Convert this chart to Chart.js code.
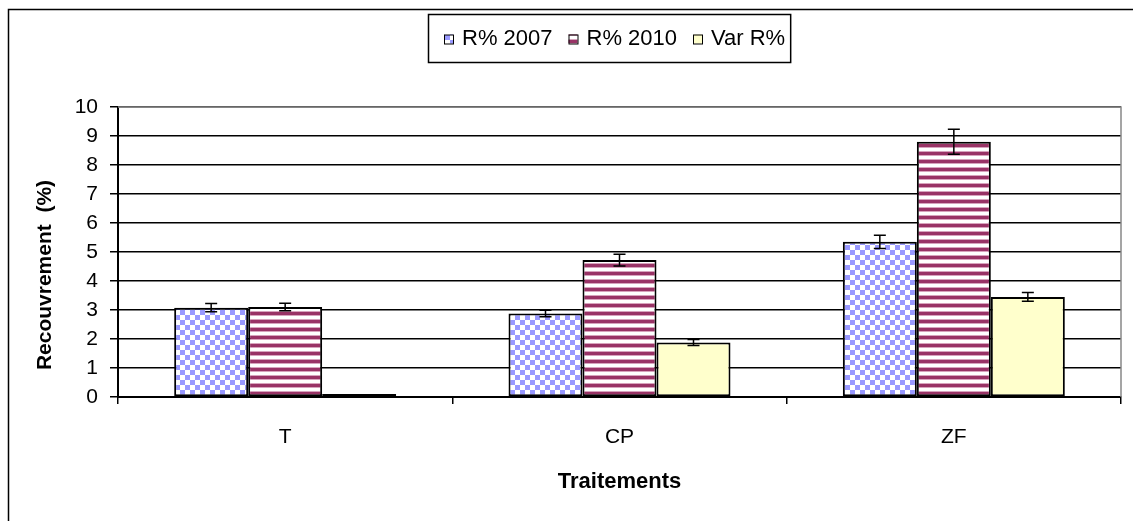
<!DOCTYPE html>
<html>
<head>
<meta charset="utf-8">
<script src="https://cdn.jsdelivr.net/npm/chart.js@4.4.1/dist/chart.umd.min.js"></script>
<style>
  html, body { margin: 0; padding: 0; background: #fff; }
  #wrap { width: 1133px; height: 521px; }
</style>
</head>
<body>
<div id="wrap"><canvas id="chart" width="1133" height="521"></canvas></div>
<script>
// Chart data
const categories = ['T', 'CP', 'ZF'];
const seriesLabels = ['R% 2007', 'R% 2010', 'Var R%'];
const r2007 = [3.08, 2.88, 5.35];
const r2007Err = [0.14, 0.11, 0.23];
const r2010 = [3.1, 4.72, 8.8];
const r2010Err = [0.13, 0.2, 0.43];
const varR = [0.1, 1.88, 3.45];
const varErr = [0, 0.1, 0.15];
const yTicks = [0, 1, 2, 3, 4, 5, 6, 7, 8, 9, 10];
const yTitle = 'Recouvrement  (%)';

const FONT = "'Liberation Sans', Arial, sans-serif";

// Fill patterns
function checkerPattern() {
    const c = document.createElement('canvas');
    c.width = 10; c.height = 10;
    const g = c.getContext('2d');
    g.fillStyle = '#ffffff';
    g.fillRect(0, 0, 10, 10);
    g.fillStyle = '#9999ff';
    g.fillRect(0, 0, 5, 5);
    g.fillRect(5, 5, 5, 5);
    return g.createPattern(c, 'repeat');
}

function stripePattern() {
    const c = document.createElement('canvas');
    c.width = 8; c.height = 8;
    const g = c.getContext('2d');
    g.fillStyle = '#ffffff';
    g.fillRect(0, 0, 8, 8);
    g.fillStyle = '#993366';
    g.fillRect(0, 0, 8, 3);
    g.fillStyle = '#d7a3bd';
    g.fillRect(0, 3, 8, 1);
    g.fillRect(0, 7, 8, 1);
    return g.createPattern(c, 'repeat');
}

const fills = [checkerPattern(), stripePattern(), '#ffffcc'];
const errors = [r2007Err, r2010Err, varErr];

// Error bars, drawn through the chart's own scales
const errorBars = {
    id: 'errorBars',
    afterDatasetsDraw(chart) {
        const ctx = chart.ctx;
        const yScale = chart.scales.y;
        ctx.save();
        ctx.strokeStyle = '#000';
        ctx.lineWidth = 1.5;
        chart.data.datasets.forEach((ds, i) => {
            const meta = chart.getDatasetMeta(i);
            meta.data.forEach((bar, j) => {
                const err = errors[i][j];
                if (!err) return;
                const v = ds.data[j];
                const yTop = yScale.getPixelForValue(v + err);
                const yBot = yScale.getPixelForValue(v - err);
                ctx.beginPath();
                ctx.moveTo(bar.x, yTop); ctx.lineTo(bar.x, yBot);
                ctx.moveTo(bar.x - 6, yTop); ctx.lineTo(bar.x + 6, yTop);
                ctx.moveTo(bar.x - 6, yBot); ctx.lineTo(bar.x + 6, yBot);
                ctx.stroke();
            });
        });
        ctx.restore();
    }
};

// Outer frame, plot border, y title and boxed legend
const frameAndLegend = {
    id: 'frameAndLegend',
    beforeDraw(chart) {
        const ctx = chart.ctx;
        ctx.save();
        ctx.fillStyle = '#fff';
        ctx.fillRect(0, 0, chart.width, chart.height);
        ctx.restore();
    },
    afterDraw(chart) {
        const ctx = chart.ctx;
        const a = chart.chartArea;
        ctx.save();
        // outer frame
        ctx.strokeStyle = '#000';
        ctx.lineWidth = 1.5;
        ctx.beginPath();
        ctx.moveTo(8.5, chart.height);
        ctx.lineTo(8.5, 9.5);
        ctx.lineTo(chart.width, 9.5);
        ctx.stroke();
        // plot area top / right edge
        ctx.strokeStyle = '#888';
        ctx.lineWidth = 1.5;
        ctx.beginPath();
        ctx.moveTo(a.left, a.top);
        ctx.lineTo(a.right, a.top);
        ctx.lineTo(a.right, a.bottom);
        ctx.stroke();

        // y axis title (sits a bit below the plot centre, as in the original)
        ctx.save();
        ctx.translate(45, 275);
        ctx.rotate(-Math.PI / 2);
        ctx.font = 'bold 21px ' + FONT;
        ctx.fillStyle = '#000';
        ctx.textAlign = 'center';
        ctx.textBaseline = 'middle';
        ctx.fillText(yTitle, 0, 0);
        ctx.restore();

        // legend
        ctx.font = '22px ' + FONT;
        ctx.textBaseline = 'middle';
        const box = { x: 428, y: 14, h: 48 };
        const sq = 9, gapText = 9, gapItem = 16;
        let w = 16;
        seriesLabels.forEach((s, i) => {
            w += sq + gapText + ctx.measureText(s).width + (i < seriesLabels.length - 1 ? gapItem : 0);
        });
        w += 5;
        ctx.fillStyle = '#fff';
        ctx.fillRect(box.x, box.y, w, box.h);
        ctx.strokeStyle = '#000';
        ctx.lineWidth = 1.5;
        ctx.strokeRect(box.x + 0.5, box.y + 0.5, w, box.h);
        let x = box.x + 16;
        const cy = box.y + box.h / 2 + 1;
        seriesLabels.forEach((s, i) => {
            ctx.fillStyle = fills[i];
            ctx.fillRect(x, cy - sq / 2, sq, sq);
            ctx.strokeStyle = '#000';
            ctx.lineWidth = 1;
            ctx.strokeRect(x + 0.5, cy - sq / 2 + 0.5, sq, sq);
            ctx.fillStyle = '#000';
            ctx.fillText(s, x + sq + gapText, cy);
            x += sq + gapText + ctx.measureText(s).width + gapItem;
        });
        ctx.restore();
    }
};

const ctx = document.getElementById('chart').getContext('2d');
new Chart(ctx, {
    type: 'bar',
    data: {
        labels: categories,
        datasets: [r2007, r2010, varR].map((d, i) => ({
            label: seriesLabels[i],
            data: d,
            backgroundColor: fills[i],
            borderColor: '#000',
            borderWidth: 2,
            borderSkipped: false,
            categoryPercentage: 0.664,
            barPercentage: 1.0
        }))
    },
    options: {
        responsive: false,
        animation: false,
        devicePixelRatio: 1,
        layout: { padding: { top: 107, right: 12, left: 0, bottom: 0 } },
        plugins: {
            legend: { display: false },
            tooltip: { enabled: false }
        },
        scales: {
            x: {
                offset: true,
                grid: {
                    offset: true,
                    drawOnChartArea: false,
                    color: '#000',
                    lineWidth: 1.5,
                    tickLength: 7
                },
                border: { color: '#000', width: 2 },
                ticks: {
                    color: '#000',
                    font: { family: FONT, size: 21 },
                    padding: 21
                },
                title: {
                    display: true,
                    text: 'Traitements',
                    color: '#000',
                    font: { family: FONT, size: 22, weight: 'bold' },
                    padding: { top: 0, bottom: 26 }
                },
                afterFit(scale) { scale.height = 124; }
            },
            y: {
                min: 0,
                max: 10,
                afterBuildTicks(scale) {
                    scale.ticks = yTicks.map(v => ({ value: v }));
                },
                grid: {
                    color: '#000',
                    lineWidth: 1.5,
                    tickLength: 8
                },
                border: { color: '#000', width: 2 },
                ticks: {
                    color: '#000',
                    font: { family: FONT, size: 21 },
                    padding: 12
                },
                afterFit(scale) { scale.width = 118; }
            }
        }
    },
    plugins: [errorBars, frameAndLegend]
});
</script>
</body>
</html>
